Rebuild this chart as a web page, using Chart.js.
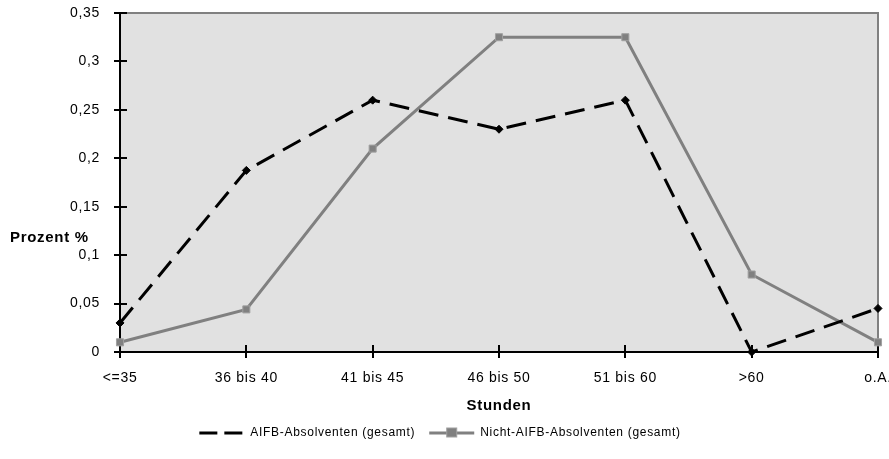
<!DOCTYPE html>
<html lang="de">
<head>
<meta charset="utf-8">
<title>Wochenarbeitszeit</title>
<script src="https://cdn.jsdelivr.net/npm/chart.js@4"></script>
<style>
  html, body { margin: 0; padding: 0; background: #ffffff; }
  #wrap { width: 889px; height: 459px; position: relative; }
</style>
</head>
<body>
<div id="wrap"><canvas id="chart"></canvas></div>
<script>
// Arbeitsstunden pro Woche (Kategorien der x-Achse)
const categories = ['<=35', '36 bis 40', '41 bis 45', '46 bis 50', '51 bis 60', '>60', 'o.A.'];

// Anteile je Kategorie
const aifbValues = [0.03, 0.1875, 0.26, 0.23, 0.26, 0, 0.045];
const nichtAifbValues = [0.01, 0.044, 0.21, 0.325, 0.325, 0.08, 0.01];

const seriesNames = ['AIFB-Absolventen (gesamt)', 'Nicht-AIFB-Absolventen (gesamt)'];

// y-Achse: 0 bis 0,35 in Schritten von 0,05
const yMin = 0;
const yMax = 0.35;
const yStep = 0.05;

const yTitle = 'Prozent %';
const xTitle = 'Stunden';

const FONT = "'Liberation Sans', Arial, sans-serif";
const SPACING = '0.7px';
const GREY = '#808080';

function setSpacing(chart) {
  if ('letterSpacing' in chart.ctx) chart.ctx.letterSpacing = SPACING;
}

// Grauer Hintergrund der Zeichenfläche mit grauem Rahmen oben/rechts
const plotFrame = {
  id: 'plotFrame',
  beforeUpdate: setSpacing,
  beforeLayout: setSpacing,
  beforeDraw(chart) {
    setSpacing(chart);
    const { ctx, chartArea: a } = chart;
    ctx.save();
    ctx.fillStyle = '#e1e1e1';
    ctx.fillRect(a.left, a.top, a.right - a.left, a.bottom - a.top);
    ctx.strokeStyle = GREY;
    ctx.lineWidth = 2;
    ctx.beginPath();
    ctx.moveTo(a.left, a.top);
    ctx.lineTo(a.right, a.top);
    ctx.lineTo(a.right, a.bottom);
    ctx.stroke();
    ctx.restore();
  },
  beforeDatasetsDraw(chart) {
    // Teilstriche, die die Achsen kreuzen
    const { ctx } = chart;
    const x = chart.scales.x, y = chart.scales.y;
    ctx.save();
    ctx.strokeStyle = '#000';
    ctx.lineWidth = 2;
    ctx.beginPath();
    y.ticks.forEach((t, i) => {
      const py = Math.round(y.getPixelForTick(i));
      ctx.moveTo(x.left - 6, py);
      ctx.lineTo(x.left + 7, py);
    });
    x.ticks.forEach((t, i) => {
      const px = Math.round(x.getPixelForTick(i));
      ctx.moveTo(px, y.bottom - 7);
      ctx.lineTo(px, y.bottom + 6);
    });
    ctx.stroke();
    ctx.restore();
  },
  afterDraw(chart) {
    const { ctx } = chart;
    ctx.save();
    // Waagerechter Titel der y-Achse
    ctx.font = 'bold 15px ' + FONT;
    ctx.fillStyle = '#000';
    ctx.textAlign = 'left';
    ctx.textBaseline = 'middle';
    ctx.fillText(yTitle, 10, 238);
    // Quadrat-Symbol in der Legende der zweiten Reihe
    const lg = chart.legend;
    if (lg && lg.legendHitBoxes && lg.legendHitBoxes[1]) {
      const hb = lg.legendHitBoxes[1];
      const bw = lg.options.labels.pointStyleWidth;
      const cx = hb.left + bw / 2;
      const cy = hb.top + hb.height / 2;
      ctx.fillStyle = GREY;
      ctx.strokeStyle = '#a0a0a0';
      ctx.lineWidth = 1;
      ctx.fillRect(cx - 5, cy - 5, 10, 9);
      ctx.strokeRect(cx - 5, cy - 5, 10, 9);
    }
    ctx.restore();
  }
};

const fmt = v => Number(v.toFixed(2)).toString().replace('.', ',');

new Chart(document.getElementById('chart'), {
  type: 'line',
  data: {
    labels: categories,
    datasets: [
      {
        label: seriesNames[0],
        data: aifbValues,
        borderColor: '#000000',
        backgroundColor: '#000000',
        borderWidth: 3,
        borderDash: [20, 10],
        pointStyle: 'rectRot',
        pointRadius: 4,
        pointBorderWidth: 1,
        tension: 0,
        clip: false
      },
      {
        label: seriesNames[1],
        data: nichtAifbValues,
        borderColor: GREY,
        backgroundColor: GREY,
        borderWidth: 3,
        pointStyle: 'rect',
        pointRadius: 5,
        pointBorderColor: '#a0a0a0',
        pointBackgroundColor: GREY,
        pointBorderWidth: 1,
        tension: 0,
        clip: false
      }
    ]
  },
  options: {
    responsive: true,
    maintainAspectRatio: false,
    animation: false,
    events: [],
    layout: { padding: { left: 2, right: 11, top: 13, bottom: 10 } },
    scales: {
      x: {
        type: 'category',
        offset: false,
        grid: { display: false },
        border: { display: true, color: '#000', width: 2 },
        ticks: {
          color: '#000',
          font: { family: FONT, size: 14 },
          padding: 10,
          maxRotation: 0,
          autoSkip: false
        },
        title: {
          display: true,
          text: xTitle,
          color: '#000',
          font: { family: FONT, size: 15, weight: 'bold' },
          padding: { top: 0, bottom: -2 }
        },
        afterFit(scale) {
          scale.height = 61;
          scale.paddingLeft = 0;
          scale.paddingRight = 0;
        }
      },
      y: {
        min: yMin,
        max: yMax,
        grid: { display: false },
        border: { display: true, color: '#000', width: 2 },
        ticks: {
          stepSize: yStep,
          color: '#000',
          font: { family: FONT, size: 14 },
          padding: 12,
          callback: v => fmt(v)
        },
        afterFit(scale) {
          scale.width = 118;
          scale.paddingTop = 0;
          scale.paddingBottom = 0;
        }
      }
    },
    plugins: {
      tooltip: { enabled: false },
      legend: {
        display: true,
        position: 'bottom',
        labels: {
          color: '#000',
          font: { family: FONT, size: 12 },
          usePointStyle: true,
          pointStyleWidth: 45,
          padding: 14,
          generateLabels(chart) {
            return chart.data.datasets.map((ds, i) => ({
              text: ds.label,
              datasetIndex: i,
              pointStyle: 'line',
              strokeStyle: ds.borderColor,
              fillStyle: ds.borderColor,
              lineWidth: 3,
              lineDash: i === 0 ? [18, 7] : [],
              hidden: false,
              fontColor: '#000'
            }));
          }
        }
      }
    }
  },
  plugins: [plotFrame]
});
</script>
</body>
</html>
